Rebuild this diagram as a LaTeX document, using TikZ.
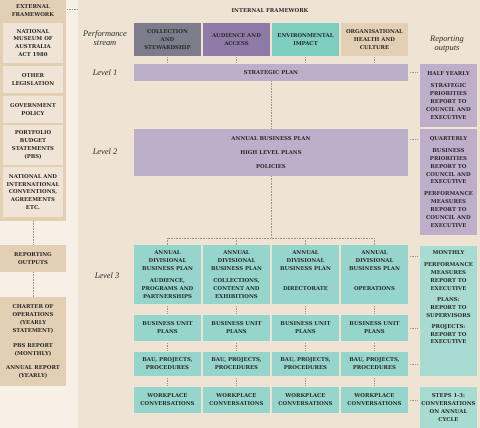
\documentclass[tikz,border=0pt]{standalone}
\usepackage{fontspec}
\setmainfont{Liberation Serif}
\newfontfamily\slabfont{DejaVu Serif}

\definecolor{pagefill}{HTML}{F6F0E7}
\definecolor{panelfill}{HTML}{EFE4D4}
\definecolor{tanfill}{HTML}{E3CFB4}
\definecolor{paperfill}{HTML}{EFE4D6}
\definecolor{lilacfill}{HTML}{BDAEC9}
\definecolor{tealfill}{HTML}{95D5CB}
\definecolor{monthfill}{HTML}{A8DBD2}
\definecolor{streamgray}{HTML}{7D7C8B}
\definecolor{streampurple}{HTML}{8F7BA7}
\definecolor{streamteal}{HTML}{7DCEBF}
\definecolor{inkdark}{HTML}{2B2A2A}
\definecolor{dotgray}{HTML}{9C958E}

\begin{document}
\begin{tikzpicture}[x=1pt,y=-1pt,
    plainbox/.style={rectangle, inner sep=0pt, align=center, text=inkdark,
      font=\slabfont\bfseries\fontsize{5.35}{7.9}\selectfont},
    tanbox/.style={plainbox, fill=tanfill},
    paperbox/.style={plainbox, fill=paperfill, minimum width=60pt},
    lilacbox/.style={plainbox, fill=lilacfill},
    tealbox/.style={plainbox, fill=tealfill},
    streambox/.style={plainbox, minimum width=67pt, minimum height=33pt},
    repbox/.style={plainbox, minimum width=57pt},
    link/.style={draw=dotgray, line width=0.8pt, dash pattern=on 0.8pt off 0.8pt},
    levellabel/.style={font=\itshape\fontsize{8.4}{8.6}\selectfont, align=center, text=inkdark}]
  \useasboundingbox (0,0) rectangle (480,428);
  \fill[pagefill] (0,0) rectangle (480,428);
  \fill[panelfill] (78,0) rectangle (480,428);

  % external framework column
  \node[tanbox, minimum width=66pt, minimum height=221pt] (extpanel) at (33,110.5) {};
  \node[plainbox] (extfw) at (33,11) {EXTERNAL\\FRAMEWORK};
  \node[paperbox, minimum height=40pt] (museumact) at (33,43) {NATIONAL\\MUSEUM OF\\AUSTRALIA\\ACT 1980};
  \node[paperbox, minimum height=27pt] (otherlaw) at (33,79.5) {OTHER\\LEGISLATION};
  \node[paperbox, minimum height=27pt] (govpolicy) at (33,109.5) {GOVERNMENT\\POLICY};
  \node[paperbox, minimum height=40pt] (pbs) at (33,145) {PORTFOLIO\\BUDGET\\STATEMENTS\\(PBS)};
  \node[paperbox, minimum height=50pt] (conventions) at (33,192) {NATIONAL AND\\INTERNATIONAL\\CONVENTIONS,\\AGREEMENTS\\ETC.};
  \node[tanbox, minimum width=66pt, minimum height=27pt] (repout) at (33,258.5) {REPORTING\\OUTPUTS};
  \node[tanbox, minimum width=66pt, minimum height=89pt] (charter) at (33,341.5)
    {CHARTER OF\\OPERATIONS\\(YEARLY\\STATEMENT)\\[7pt]PBS REPORT\\(MONTHLY)\\[6pt]ANNUAL REPORT\\(YEARLY)};
  \coordinate (intedge) at (77,9);
  \draw[link, shorten <=1pt] (extpanel.east |- intedge) -- (intedge);
  \draw[link] (extpanel.south) -- (repout.north);
  \draw[link] (repout.south) -- (charter.north);

  % internal framework
  \node[plainbox] (intfw) at (270,11) {INTERNAL FRAMEWORK};
  \node[levellabel] (streamlbl) at (105,38) {Performance\\stream};
  \node[levellabel] (replbl) at (447,44) {Reporting\\outputs};
  \node[levellabel] (lvl1lbl) at (105,73) {Level 1};
  \node[levellabel] (lvl2lbl) at (105,152) {Level 2};
  \node[levellabel] (lvl3lbl) at (107,276) {Level 3};

  \node[streambox, fill=streamgray] (collect) at (167.5,39.5) {COLLECTION\\AND\\STEWARDSHIP};
  \node[streambox, fill=streampurple] (audience) at (236.5,39.5) {AUDIENCE AND\\ACCESS};
  \node[streambox, fill=streamteal] (environ) at (305.5,39.5) {ENVIRONMENTAL\\IMPACT};
  \node[streambox, fill=tanfill] (orghealth) at (374.5,39.5) {ORGANISATIONAL\\HEALTH AND\\CULTURE};

  \node[lilacbox, minimum width=274pt, minimum height=17pt] (strat) at (271,72.5) {STRATEGIC PLAN};
  \node[lilacbox, minimum width=274pt, minimum height=47pt] (lvl2) at (271,152.5)
    {ANNUAL BUSINESS PLAN\\[6.5pt]HIGH LEVEL PLANS\\[6.5pt]POLICIES};

  \foreach \s in {collect,audience,environ,orghealth}
    \draw[link, shorten <=1pt, shorten >=1pt] (\s.south) -- (\s.south |- strat.north);
  \draw[link] (strat.south) -- (lvl2.north);

  % level 3 columns
  \foreach \i/\x/\sub in {1/167.5/{AUDIENCE,\\PROGRAMS AND\\PARTNERSHIPS},
      2/236.5/{COLLECTIONS,\\CONTENT AND\\EXHIBITIONS},
      3/305.5/{\mbox{}\\DIRECTORATE\\\mbox{}},
      4/374.5/{\mbox{}\\OPERATIONS\\\mbox{}}} {
    \node[tealbox, minimum width=67pt, minimum height=59pt] (div\i) at (\x,274.5)
      {ANNUAL\\DIVISIONAL\\BUSINESS PLAN\\[4pt]\sub};
    \node[tealbox, minimum width=67pt, minimum height=26pt] (bup\i) at (\x,328) {BUSINESS UNIT\\PLANS};
    \node[tealbox, minimum width=67pt, minimum height=24pt] (bau\i) at (\x,364) {BAU, PROJECTS,\\PROCEDURES};
    \node[tealbox, minimum width=67pt, minimum height=26pt] (wpc\i) at (\x,400) {WORKPLACE\\CONVERSATIONS};
    \draw[link, shorten <=2pt, shorten >=2pt] (div\i.south) -- (bup\i.north);
    \draw[link, shorten <=2pt, shorten >=2pt] (bup\i.south) -- (bau\i.north);
    \draw[link, shorten <=2pt, shorten >=2pt] (bau\i.south) -- (wpc\i.north);
  }

  \coordinate (branch) at (271,238);
  \draw[link] (lvl2.south) -- (branch);
  \draw[link] (div1.north |- branch) -- (div4.north |- branch);
  \foreach \i in {1,...,4}
    \draw[link] (div\i.north |- branch) -- (div\i.north);

  % reporting outputs
  \node[repbox, fill=lilacfill, minimum height=63pt] (halfyear) at (448.5,95.5)
    {HALF YEARLY\\[4pt]STRATEGIC\\PRIORITIES\\REPORT TO\\COUNCIL AND\\EXECUTIVE};
  \node[repbox, fill=lilacfill, minimum height=106pt] (quarter) at (448.5,182)
    {QUARTERLY\\[4pt]BUSINESS\\PRIORITIES\\REPORT TO\\COUNCIL AND\\EXECUTIVE\\[4pt]PERFORMANCE\\MEASURES\\REPORT TO\\COUNCIL AND\\EXECUTIVE};
  \node[repbox, fill=monthfill, minimum height=130pt] (monthly) at (448.5,311) {};
  \node[plainbox, anchor=north] (monthlytxt) at ([yshift=-5pt]monthly.north)
    {MONTHLY\\[4pt]PERFORMANCE\\MEASURES\\REPORT TO\\EXECUTIVE\\[3pt]PLANS:\\REPORT TO\\SUPERVISORS\\[3pt]PROJECTS:\\REPORT TO\\EXECUTIVE};
  \node[repbox, fill=monthfill, minimum height=41pt] (steps) at (448.5,407.5)
    {STEPS 1-3:\\CONVERSATIONS\\ON ANNUAL\\CYCLE};

  \draw[link, shorten <=2pt, shorten >=2pt] (strat.east) -- (strat.east -| halfyear.west);
  \draw[link, shorten <=2pt, shorten >=2pt] ([yshift=-11pt]lvl2.north east) -- ([yshift=-11pt]lvl2.north east -| quarter.west);
  \draw[link, shorten <=2pt, shorten >=2pt] ([yshift=-12pt]div4.north east) -- ([yshift=-12pt]div4.north east -| monthly.west);
  \draw[link, shorten <=2pt, shorten >=2pt] (bup4.east) -- (bup4.east -| monthly.west);
  \draw[link, shorten <=2pt, shorten >=2pt] (bau4.east) -- (bau4.east -| monthly.west);
  \draw[link, shorten <=2pt, shorten >=2pt] (wpc4.east) -- (wpc4.east -| steps.west);
\end{tikzpicture}
\end{document}
